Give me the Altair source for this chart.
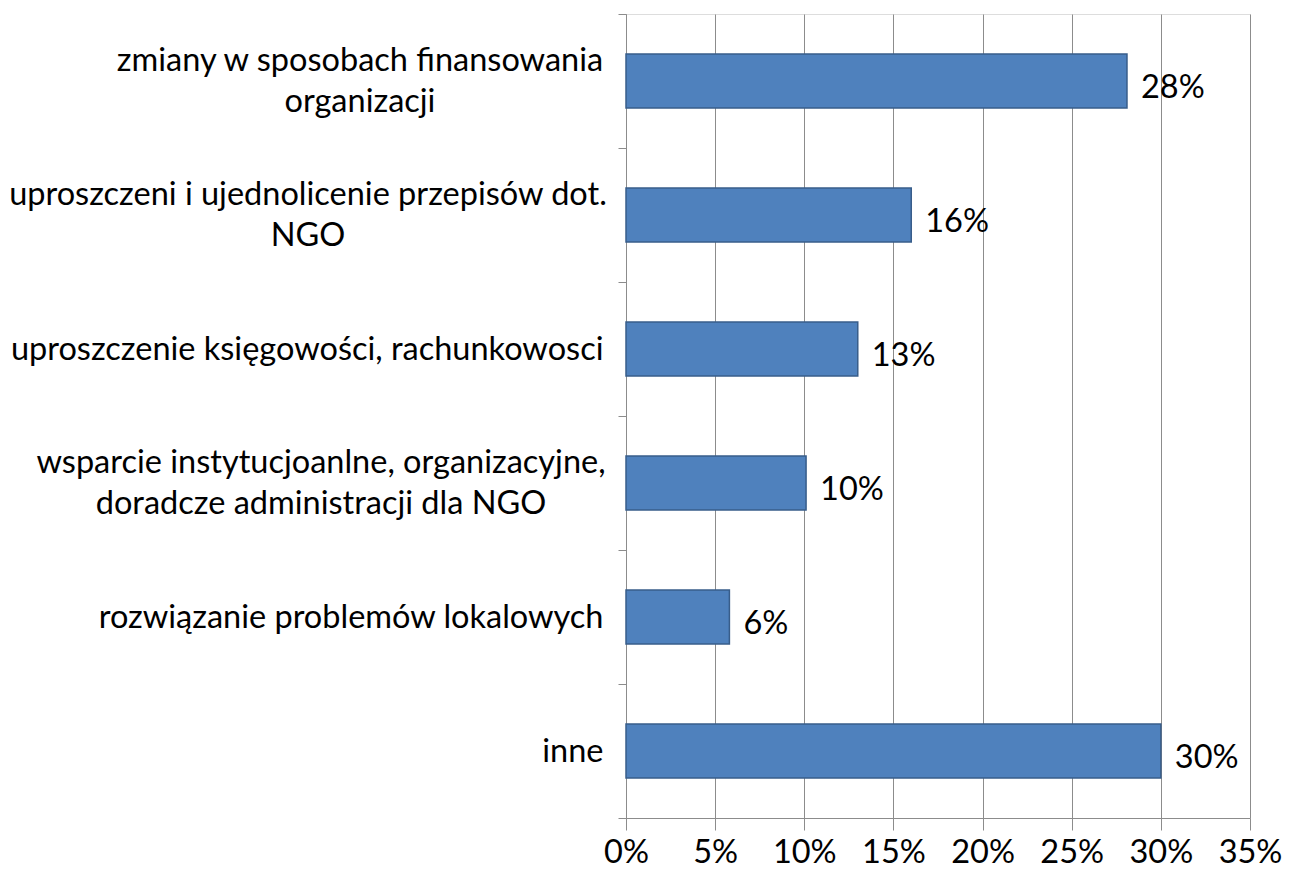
import altair as alt
import pandas as pd

categories = [
    "zmiany w sposobach finansowania|organizacji",
    "uproszczeni i ujednolicenie przepisów dot.|NGO",
    "uproszczenie księgowości, rachunkowosci",
    "wsparcie instytucjoanlne, organizacyjne,|doradcze administracji dla NGO",
    "rozwiązanie problemów lokalowych",
    "inne",
]
values = [0.281, 0.160, 0.130, 0.101, 0.058, 0.300]
x_ticks = [0, 0.05, 0.10, 0.15, 0.20, 0.25, 0.30, 0.35]

df = pd.DataFrame({"cat": categories, "val": values})

FONT = "Lato"
FS = 32.5
GRAY = "#8c8c8c"
LH = 41

y_enc = alt.Y(
    "cat:N",
    sort=categories,
    title=None,
    scale=alt.Scale(paddingInner=0, paddingOuter=0),
    axis=alt.Axis(
        labelExpr="indexof(datum.label, '|') >= 0 ? '' : datum.label",
        labelFont=FONT,
        labelFontSize=FS,
        labelColor="#000000",
        labelPadding=15,
        labelLimit=0,
        tickBand="extent",
        tickSize=8,
        tickColor=GRAY,
        domainColor=GRAY,
        grid=False,
    ),
)

x_enc = alt.X(
    "val:Q",
    title=None,
    scale=alt.Scale(domain=[0, 0.35], nice=False),
    axis=alt.Axis(
        values=x_ticks,
        format=".0%",
        labelFont=FONT,
        labelFontSize=FS,
        labelColor="#000000",
        labelPadding=6,
        labelFlush=False,
        tickSize=12,
        tickColor=GRAY,
        domainColor=GRAY,
        gridColor=GRAY,
        grid=True,
    ),
)

bars = alt.Chart(df).mark_bar(
    size=54, color="#4f81bd", stroke="#385d8a", strokeWidth=1.5
).encode(y=y_enc, x=x_enc)

labels = alt.Chart(df).mark_text(
    align="left", baseline="middle", dx=14, dy=7, font=FONT, fontSize=FS, color="#000000"
).encode(
    y=alt.Y("cat:N", sort=categories),
    x=alt.X("val:Q"),
    text=alt.Text("val:Q", format=".0%"),
)

# multi-line category labels: lines centred on each other, block right-aligned near the axis
multi_centres = {categories[0]: -266, categories[1]: -318, categories[3]: -305}
cat_layers = []
for cat, cx in multi_centres.items():
    cat_layers.append(
        alt.Chart(df)
        .transform_filter(alt.datum.cat == cat)
        .transform_calculate(lines="split(datum.cat, '|')")
        .mark_text(
            align="center", baseline="middle", dy=-LH / 2, lineHeight=LH,
            font=FONT, fontSize=FS, color="#000000",
        )
        .encode(
            y=alt.Y("cat:N", sort=categories),
            x=alt.value(cx),
            text=alt.Text("lines:N"),
        )
    )

chart = (
    alt.layer(bars, labels, *cat_layers)
    .properties(
        width=624,
        height=804,
        autosize=alt.AutoSizeParams(type="none"),
        padding={"top": 6, "left": 618, "right": 33, "bottom": 50},
    )
    .configure_view(stroke=None)
    .configure(background="white")
)

chart.save("out.html", embed_options={"renderer": "svg", "actions": False})
